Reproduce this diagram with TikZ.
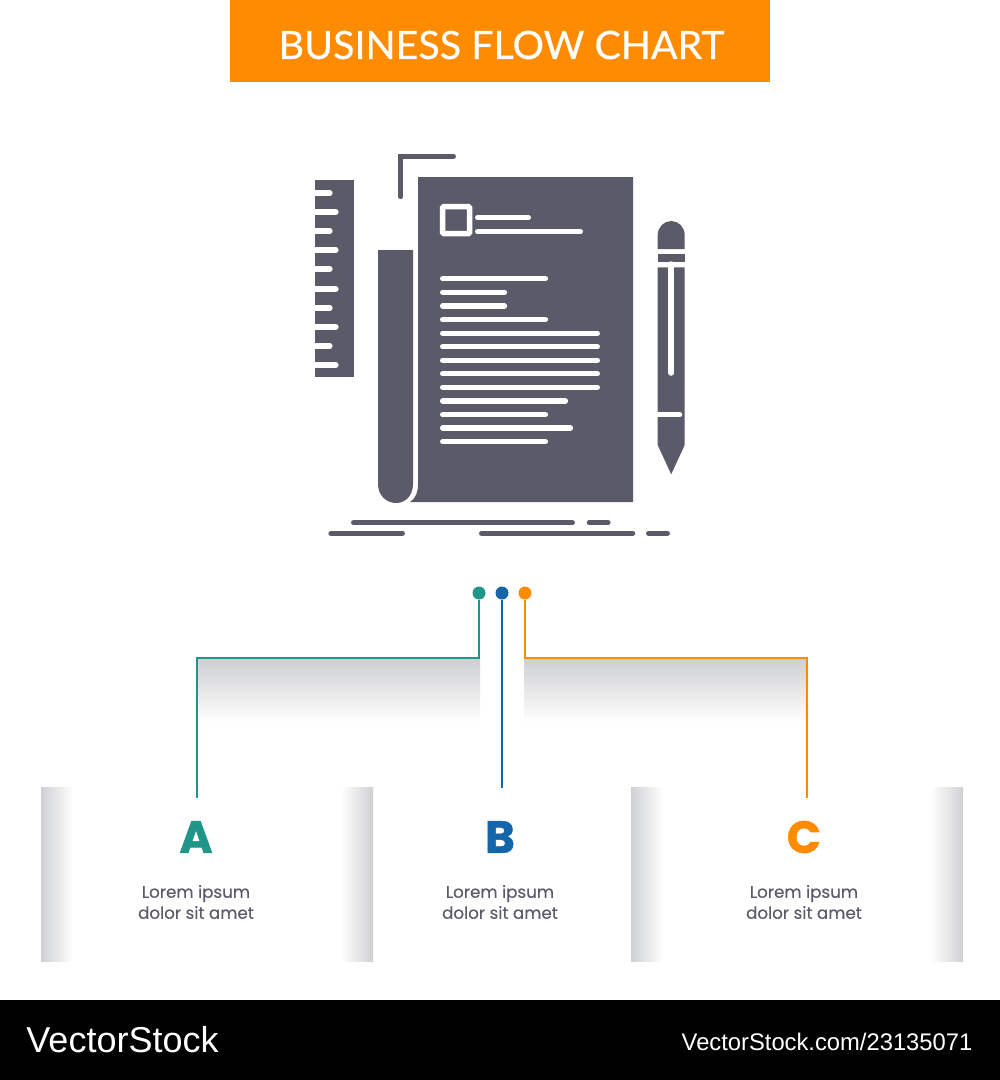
\documentclass[tikz,border=0pt]{standalone}
\usepackage{fontspec}
\setmainfont{Lato}
\newfontfamily\logofont{Liberation Sans}
\newfontfamily\titlefont[FakeBold=0.5]{Lato}
\newfontfamily\capfont[FakeBold=0.2]{Poppins}
\newfontfamily\letterfont[BoldFeatures={FakeBold=1.2}]{Poppins}
\usetikzlibrary{arrows.meta, calc}
\definecolor{titleorange}{HTML}{FF8B00}
\definecolor{glyphgrey}{HTML}{5B5A68}
\definecolor{tealline}{HTML}{1F9687}
\definecolor{blueline}{HTML}{1565A9}
\definecolor{shadegrey}{HTML}{CFD0D2}
\tikzset{%
    glyph/.style={fill=glyphgrey, draw=none},
    glo/.style={line width=5.2pt, glyphgrey, line cap=round},
    cutline/.style={line width=5.2pt, white, line cap=round},
    dotnode/.style={circle, minimum size=13pt, inner sep=0pt},
    con/.style={line width=1.6pt},
    letter/.style={font=\letterfont\fontsize{45}{45}\selectfont\bfseries},
    captext/.style={glyphgrey, align=center, font=\capfont\fontsize{16.7}{21}\selectfont},
    shadedown/.style={top color=shadegrey, middle color=shadegrey!35, bottom color=white, draw=none},
    shadeleft/.style={left color=shadegrey, middle color=shadegrey!35, right color=white, draw=none},
    shaderight/.style={left color=white, middle color=shadegrey!35, right color=shadegrey, draw=none},
}
\begin{document}
\begin{tikzpicture}[x=1pt,y=-1pt]
    \useasboundingbox (0,0) rectangle (1000,1080);
    % title
    \fill [titleorange] (230,0) rectangle (770,82);
    \node (title) at (501.5,45) [white, xscale=1.01, font=\titlefont\fontsize{39}{39}\selectfont] {BUSINESS FLOW CHART};
    % ruler
    \fill [glyph] (315,180) rectangle (354,377);
    \foreach \yy/\xx in {193/330,212/336,231/330,250/336,269/330,289/336,308/330,327/336,346/330,365/336}
        \draw [cutline] (313,\yy) -- (\xx,\yy);
    % corner
    \draw [glo] (400.8,196.5) -- (400.8,156.3) -- (453.4,156.3);
    % sheet
    \fill [glyph] (418,177) -- (633,177) -- (633,502) -- (410,502) .. controls (416,498) and (418,492) .. (418,484) -- cycle;
    \fill [glyph] (378,250) -- (413,250) -- (413,484) .. controls (413,495) and (406,503) .. (396,503) .. controls (386,503) and (378,495) .. (378,484) -- cycle;
    \draw [white, line width=5.5pt, rounded corners=1pt] (442.7,206.7) rectangle (469.5,233.5);
    \foreach \yy/\xa/\xb in {217.7/477.6/528.4,231.7/477.6/580.4,278.7/442.6/545.5,292.3/442.6/504.5,306/442.6/504.5,319.7/442.6/545.5,333.3/442.6/597.4,346.7/442.6/597.4,360.3/442.6/597.4,373.7/442.6/597.4,387.3/442.6/597.4,401/442.6/565.5,414.7/442.6/545.5,428/442.6/570.5,441.7/442.6/545.5}
        \draw [cutline] (\xa,\yy) -- (\xb,\yy);
    % pencil
    \fill [glyph] (657.7,249) -- (657.7,235) .. controls (657.7,227) and (664,221) .. (671.2,221) .. controls (678.5,221) and (684.7,227) .. (684.7,235) -- (684.7,249) -- cycle;
    \fill [glyph] (657.7,253.7) rectangle (684.7,262.3);
    \fill [glyph] (657.7,267.3) -- (684.7,267.3) -- (684.7,445) -- (671.2,474.3) -- (657.7,445) -- cycle;
    \draw [white, line width=5.5pt, line cap=round] (671.2,264) -- (671.2,373);
    \draw [cutline] (655,414.8) -- (679.7,414.8);
    % ground lines
    \foreach \yy/\xa/\xb in {522.7/353.6/572.4,522.7/589.3/608,533.3/331/402.4,533.3/481.6/632.7,533.3/648.6/667.4}
        \draw [glo] (\xa,\yy) -- (\xb,\yy);
    % shades
    \fill [shadedown] (197,659) rectangle (480,722);
    \fill [shadedown] (524,659) rectangle (807,722);
    \fill [shadeleft] (41,787) rectangle (73,961);
    \fill [shaderight] (341,787) rectangle (373,961);
    \fill [shadeleft] (631,787) rectangle (663,961);
    \fill [shaderight] (931,787) rectangle (963,961);
    % dots and connectors
    \node (dota) at (479,593) [dotnode, fill=tealline] {};
    \node (dotb) at (502,593) [dotnode, fill=blueline] {};
    \node (dotc) at (525,593) [dotnode, fill=titleorange] {};
    \coordinate (enda) at (197,798);
    \coordinate (endb) at (502,788);
    \coordinate (endc) at (807,798);
    \draw [con, tealline] (dota) |- (enda |- 0,658) -- (enda);
    \draw [con, blueline] (dotb) -- (endb);
    \draw [con, titleorange] (dotc) |- (endc |- 0,658) -- (endc);
    % labels
    \node (leta) at (196,837) [letter, tealline] {A};
    \node (letb) at (500,837) [letter, blueline] {B};
    \node (letc) at (804,837) [letter, titleorange] {C};
    \node (capa) at (196,902) [captext] {Lorem ipsum\\dolor sit amet};
    \node (capb) at (500,902) [captext] {Lorem ipsum\\dolor sit amet};
    \node (capc) at (804,902) [captext] {Lorem ipsum\\dolor sit amet};
    % footer
    \fill [black] (0,1000) rectangle (1000,1080);
    \node (logo) at (122.5,1040) [white, font=\logofont\fontsize{36}{36}\selectfont] {VectorStock};
    \node (link) at (827,1042) [white, xscale=0.99, font=\logofont\fontsize{24}{24}\selectfont] {VectorStock.com/23135071};
\end{tikzpicture}
\end{document}
